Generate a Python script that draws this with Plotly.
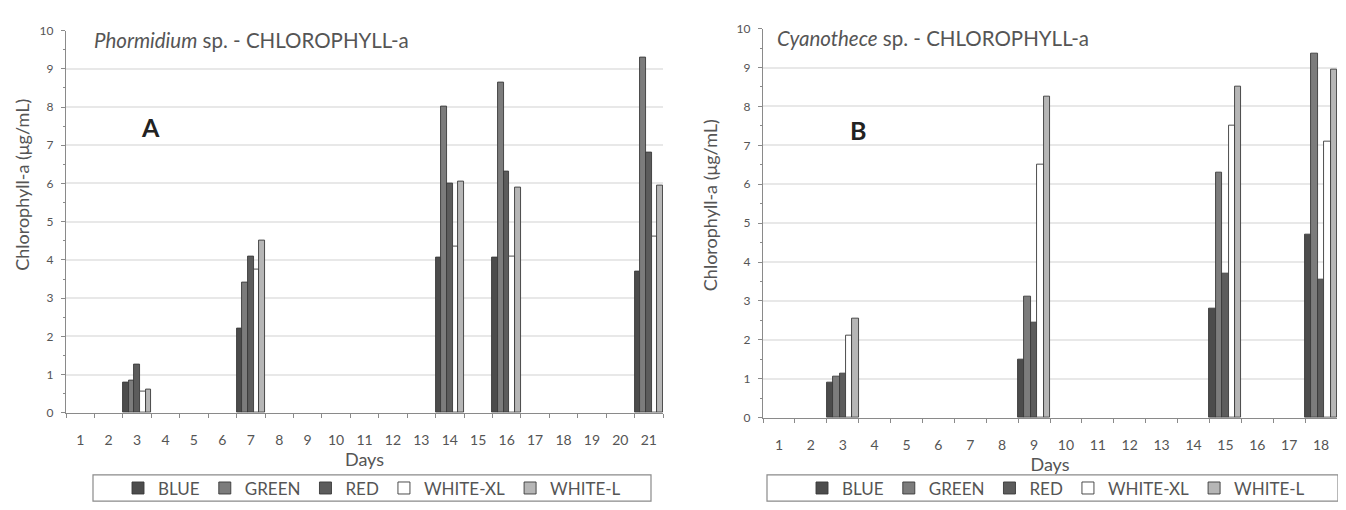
import plotly.graph_objects as go

# the page body keeps an 8px margin, so the figure is drawn 8px smaller and coordinates are offset
OFF = 8
W, H = 1346 - OFF, 510 - OFF

series = ["BLUE", "GREEN", "RED", "WHITE-XL", "WHITE-L"]
fills = ["#4c4c4c", "#7c7c7c", "#5c5c5c", "#ffffff", "#b6b6b6"]

# Panel A: Phormidium sp.
days_A = list(range(1, 22))
sample_days_A = [3, 7, 14, 16, 21]
A_blue = [0.8, 2.2, 4.05, 4.05, 3.7]
A_green = [0.85, 3.4, 8.0, 8.65, 9.3]
A_red = [1.25, 4.1, 6.0, 6.3, 6.8]
A_whitexl = [0.55, 3.75, 4.35, 4.1, 4.6]
A_whitel = [0.6, 4.5, 6.05, 5.9, 5.95]

# Panel B: Cyanothece sp.
days_B = list(range(1, 19))
sample_days_B = [3, 9, 15, 18]
B_blue = [0.9, 1.5, 2.8, 4.7]
B_green = [1.05, 3.1, 6.3, 9.35]
B_red = [1.12, 2.45, 3.7, 3.55]
B_whitexl = [2.12, 6.5, 7.5, 7.1]
B_whitel = [2.55, 8.25, 8.5, 8.95]

A_vals = [A_blue, A_green, A_red, A_whitexl, A_whitel]
B_vals = [B_blue, B_green, B_red, B_whitexl, B_whitel]


def expand(all_days, sample_days, vals):
    m = dict(zip(sample_days, vals))
    return [m.get(d, None) for d in all_days]


fig = go.Figure()

for i, name in enumerate(series):
    fig.add_trace(go.Bar(
        x=[str(d) for d in days_A], y=expand(days_A, sample_days_A, A_vals[i]),
        name=name, marker=dict(color=fills[i], line=dict(color="#3a3a3a", width=0.9)),
        xaxis="x", yaxis="y", legend="legend", showlegend=True))
for i, name in enumerate(series):
    fig.add_trace(go.Bar(
        x=[str(d) for d in days_B], y=expand(days_B, sample_days_B, B_vals[i]),
        name=name, marker=dict(color=fills[i], line=dict(color="#3a3a3a", width=0.9)),
        xaxis="x2", yaxis="y2", legend="legend2", showlegend=True))


def px_x(p):
    return (p - OFF) / W


def px_y(p):
    return 1 - (p - OFF) / H


FONT = "Lato, Open Sans, sans-serif"
TXT = "#555555"

common_x = dict(type="category", showline=True, linecolor="#8a8a8a", linewidth=1.2,
                ticks="outside", ticklen=4, tickcolor="#8a8a8a", tickson="boundaries",
                tickfont=dict(family=FONT, size=14, color=TXT), ticklabelstandoff=14,
                showgrid=False, zeroline=False,
                title=dict(text="Days", font=dict(family=FONT, size=18, color=TXT), standoff=5))
common_y = dict(range=[0, 10], dtick=1, showline=True, linecolor="#8a8a8a", linewidth=1.2,
                ticks="outside", ticklen=4, tickcolor="#8a8a8a",
                minor=dict(dtick=0.5, ticks="outside", ticklen=2, tickcolor="#8a8a8a"),
                tickfont=dict(family=FONT, size=12, color=TXT), ticklabelstandoff=5,
                showgrid=True, gridcolor="#e8e8e8", gridwidth=1.5, zeroline=False)

legend_common = dict(orientation="h", yanchor="middle", xanchor="center",
                     font=dict(family=FONT, size=17, color=TXT),
                     itemwidth=30, bgcolor="rgba(0,0,0,0)", traceorder="normal")

fig.update_layout(
    width=W, height=H, margin=dict(l=0, r=0, t=0, b=0),
    paper_bgcolor="white", plot_bgcolor="white",
    barmode="group", bargap=0, bargroupgap=0,
    xaxis=dict(domain=[px_x(66), px_x(663)], anchor="y",
               categoryorder="array", categoryarray=[str(d) for d in days_A], **common_x),
    yaxis=dict(domain=[px_y(417), px_y(23)], anchor="x", **common_y),
    xaxis2=dict(domain=[px_x(763), px_x(1337)], anchor="y2",
                categoryorder="array", categoryarray=[str(d) for d in days_B], **common_x),
    yaxis2=dict(domain=[px_y(422), px_y(21)], anchor="x2", **common_y),
    legend=dict(x=px_x(372), y=px_y(495), **legend_common),
    legend2=dict(x=px_x(1056), y=px_y(495), **legend_common),
    showlegend=True,
)

# legend boxes
for x0, x1 in [(93, 651), (767, 1338)]:
    fig.add_shape(type="rect", xref="paper", yref="paper",
                  x0=px_x(x0), x1=px_x(x1), y0=px_y(508), y1=px_y(481),
                  line=dict(color="#8a8a8a", width=1.2), fillcolor="rgba(0,0,0,0)", layer="below")

title_font = dict(family=FONT, size=20.5, color=TXT)
fig.add_annotation(xref="paper", yref="paper", x=px_x(92), y=px_y(33), xanchor="left", yanchor="middle",
                   text="<i>Phormidium</i> sp. - CHLOROPHYLL-a", showarrow=False, font=title_font)
fig.add_annotation(xref="paper", yref="paper", x=px_x(775), y=px_y(31), xanchor="left", yanchor="middle",
                   text="<i>Cyanothece</i> sp. - CHLOROPHYLL-a", showarrow=False, font=title_font)
fig.add_annotation(xref="paper", yref="paper", x=px_x(150), y=px_y(122), xanchor="center", yanchor="middle",
                   text="<b>A</b>", showarrow=False, font=dict(family=FONT, size=25, color="#222"))
fig.add_annotation(xref="paper", yref="paper", x=px_x(858), y=px_y(126), xanchor="center", yanchor="middle",
                   text="<b>B</b>", showarrow=False, font=dict(family=FONT, size=25, color="#222"))
# y-axis titles
ytitle_font = dict(family=FONT, size=18, color=TXT)
fig.add_annotation(xref="paper", yref="paper", x=px_x(22), y=px_y(182), xanchor="center", yanchor="middle",
                   text="Chlorophyll-a (μg/mL)", textangle=-90, showarrow=False, font=ytitle_font)
fig.add_annotation(xref="paper", yref="paper", x=px_x(710), y=px_y(203), xanchor="center", yanchor="middle",
                   text="Chlorophyll-a (μg/mL)", textangle=-90, showarrow=False, font=ytitle_font)

fig.write_html("out.html")
